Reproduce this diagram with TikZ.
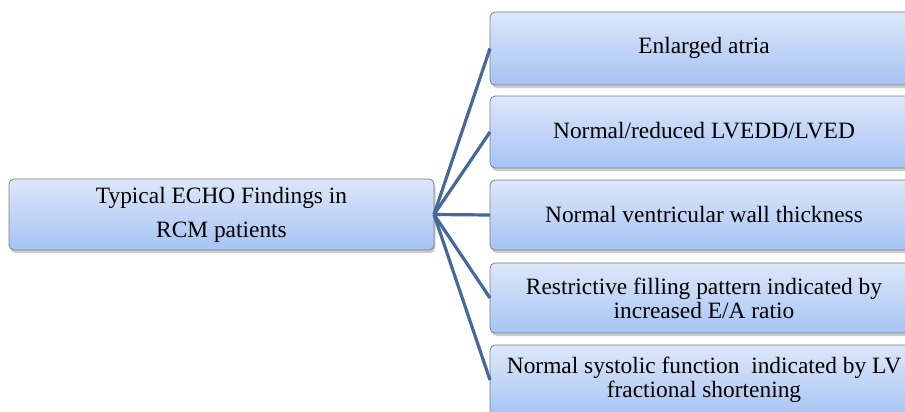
\documentclass[tikz,border=0pt]{standalone}
\usepackage{fontspec}
\setmainfont{Liberation Serif}
\usetikzlibrary{shadows}
\definecolor{boxtop}{HTML}{DDE7F9}
\definecolor{boxbot}{HTML}{A6C3F4}
\definecolor{boxline}{HTML}{7A7F88}
\definecolor{conn}{HTML}{44699A}
\tikzset{
  box/.style={rounded corners=5pt, draw=boxline, line width=0.8pt,
    top color=boxtop, bottom color=boxbot,
    drop shadow={opacity=0.4, shadow xshift=1.5pt, shadow yshift=-3pt}},
  lbl/.style={font=\fontsize{23.4}{24}\selectfont, align=center, text=black},
  conn/.style={draw=conn, line width=3.2pt}
}
\begin{document}
\begin{tikzpicture}[x=1pt,y=-1pt]
\useasboundingbox (0,0) rectangle (905,412);
\begin{scope}
\clip (0,0) rectangle (905,412);
% left box
\path[box] (9,179) rectangle (434,250);
\coordinate (L) at (434,214.5);
\node[lbl, font=\fontsize{23.4}{34}\selectfont] (lt) at (221.5,215) {Typical ECHO Findings in\\RCM patients};
% right boxes
\path[box] (490,12) rectangle (915,85);
\path[box] (490,96) rectangle (915,168);
\path[box] (490,180) rectangle (915,250);
\path[box] (490,263) rectangle (915,333);
\path[box] (490,345) rectangle (915,418);
\coordinate (R1) at (490,48.5);
\coordinate (R2) at (490,132);
\coordinate (R3) at (490,215);
\coordinate (R4) at (490,298);
\coordinate (R5) at (490,380);
\node[lbl] (t1) at (704,48) {Enlarged atria};
\node[lbl] (t2) at (704,131) {Normal/reduced LVEDD/LVED};
\node[lbl] (t3) at (704,214) {Normal ventricular wall thickness};
\node[lbl] (t4) at (704,298) {Restrictive filling pattern indicated by\\increased E/A ratio};
\node[lbl] (t5) at (704,380) {Normal systolic function\ \ indicated by LV\\fractional shortening};
\foreach \r in {R1,R2,R3,R4,R5} \draw[conn] (L) -- (\r);
\end{scope}
\end{tikzpicture}
\end{document}
